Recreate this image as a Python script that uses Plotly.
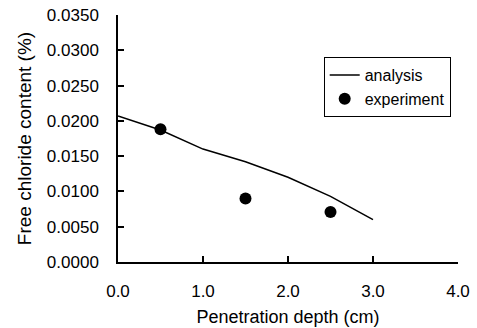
import plotly.graph_objects as go

analysis_x = [0.0, 0.5, 1.0, 1.5, 2.0, 2.5, 3.0]
analysis_y = [0.0207, 0.0187, 0.0160, 0.0142, 0.0120, 0.0093, 0.0060]
exp_x = [0.5, 1.5, 2.5]
exp_y = [0.0188, 0.0090, 0.0071]

x_ticks = [0.0, 1.0, 2.0, 3.0, 4.0]
y_ticks = [0.0, 0.005, 0.010, 0.015, 0.020, 0.025, 0.030, 0.035]

FONT = "Liberation Sans, Arial, sans-serif"

fig = go.Figure()
fig.add_trace(go.Scatter(x=analysis_x, y=analysis_y, mode="lines", name="analysis",
                         line=dict(color="black", width=1.5)))
fig.add_trace(go.Scatter(x=exp_x, y=exp_y, mode="markers", name="experiment",
                         marker=dict(color="black", size=12)))

fig.update_layout(
    width=477, height=328,
    margin=dict(l=118, r=19, t=15, b=66),
    paper_bgcolor="white", plot_bgcolor="white",
    font=dict(family=FONT, size=17, color="black"),
    showlegend=True,
    legend=dict(x=0.605, y=0.83, xanchor="left", yanchor="top",
                bordercolor="black", borderwidth=1, bgcolor="white",
                font=dict(size=16), tracegroupgap=0, itemwidth=30),
    xaxis=dict(range=[0, 4], tickvals=x_ticks, tickformat=".1f",
               showline=True, linecolor="black", linewidth=1.5,
               ticks="inside", ticklen=6, tickcolor="black", tickwidth=1.5,
               showgrid=False, zeroline=False, ticklabelstandoff=13, automargin=False,
               title=dict(text="Penetration depth (cm)", font=dict(size=18), standoff=10)),
    yaxis=dict(range=[0, 0.035], tickvals=y_ticks, tickformat=".4f",
               showline=True, linecolor="black", linewidth=1.5,
               ticks="inside", ticklen=6, tickcolor="black", tickwidth=1.5,
               showgrid=False, zeroline=False, ticklabelstandoff=14, automargin=False,
               title=dict(text="Free chloride content (%)", font=dict(size=19), standoff=10)),
)

fig.write_html("out.html")
